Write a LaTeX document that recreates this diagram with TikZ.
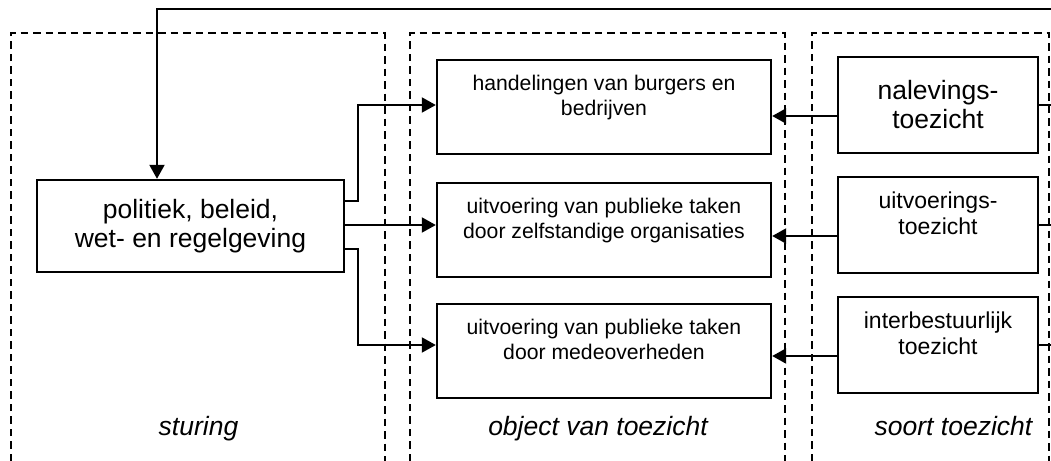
\documentclass[tikz,border=0pt]{standalone}
\usepackage{fontspec}
\setmainfont{Liberation Sans}
\usetikzlibrary{arrows.meta,positioning}
\newcommand\bigtxt{\fontsize{13.25pt}{14.5pt}\selectfont}

\begin{document}
\begin{tikzpicture}
  [x=0.5pt,y=-0.5pt,
   column/.style={line width=0.9pt,dash pattern=on 3.75pt off 2.5pt},
   wire/.style={line width=1pt},
   arr/.style={line width=1pt,-{Triangle[length=7pt,width=7.5pt]}},
   bigbox/.style={draw,line width=1.2pt,align=center,inner sep=0pt,font=\bigtxt},
   midbox/.style={draw,line width=1.2pt,minimum width=167pt,minimum height=47pt},
   sidebox/.style={draw,line width=1.2pt,align=center,inner sep=0pt,minimum width=100pt,minimum height=48pt},
   boxtext/.style={align=center,inner sep=0pt,font=\fontsize{10.6pt}{12.5pt}\selectfont},
   sidetext/.style={align=center,inner sep=0pt,font=\fontsize{11.5pt}{13pt}\selectfont},
   colname/.style={anchor=base,inner sep=0pt,font=\itshape\bigtxt}]
  \useasboundingbox (0,0) rectangle (1051,461);

  % kolommen
  \draw[column] (11,461) |- (385,33) -- (385,461);
  \draw[column] (410,461) |- (785,33) -- (785,461);
  \draw[column] (812,461) |- (1049,33) -- (1049,461);

  \node[bigbox,minimum width=153.5pt,minimum height=46pt] (pol) at (190.5,226) {politiek, beleid,\\wet- en regelgeving};

  \node[midbox] (hand) at (604,107) {};
  \node[midbox] (uitv) at (604,230) {};
  \node[midbox] (mede) at (604,351) {};
  \node[boxtext,below=8pt of hand.north] (thand) {handelingen van burgers en\\bedrijven};
  \node[boxtext,below=8pt of uitv.north] (tuitv) {uitvoering van publieke taken\\door zelfstandige organisaties};
  \node[boxtext,below=8pt of mede.north] (tmede) {uitvoering van publieke taken\\door medeoverheden};

  \node[sidebox,font=\bigtxt] (nal) at (938,105) {nalevings-\\toezicht};
  \node[sidebox] (uvt) at (938,225) {};
  \node[sidebox] (ibt) at (938,345) {};
  \node[sidetext,below=8pt of uvt.north] (tuvt) {uitvoerings-\\toezicht};
  \node[sidetext,below=8pt of ibt.north] (tibt) {interbestuurlijk\\toezicht};

  \node[colname] (lstu) at (198.5,435) {sturing};
  \node[colname] (lobj) at (598,435) {object van toezicht};
  \node[colname] (lsrt) at (953.5,435) {soort toezicht};

  % terugkoppeling
  \coordinate (edge) at (1051,9);
  \draw[arr] (edge) -| ([xshift=-16.75pt]pol.north);
  \foreach \src in {nal,uvt,ibt}
    \draw[wire] (\src.east) -- (\src.east -| edge);

  % sturing naar object
  \draw[arr] ([yshift=12.5pt]pol.east) -- ++(13,0) |- (hand.west |- nal.center);
  \draw[arr] (pol.east |- uvt.center) -- (uitv.west |- uvt.center);
  \draw[arr] ([yshift=-11.5pt]pol.east) -- ++(13,0) |- (mede.west |- ibt.center);

  % toezicht naar object
  \foreach \from/\to in {nal/hand,uvt/uitv,ibt/mede}
    \draw[arr] ([yshift=-5.5pt]\from.west) coordinate (a) -- (a -| \to.east);
\end{tikzpicture}
\end{document}
